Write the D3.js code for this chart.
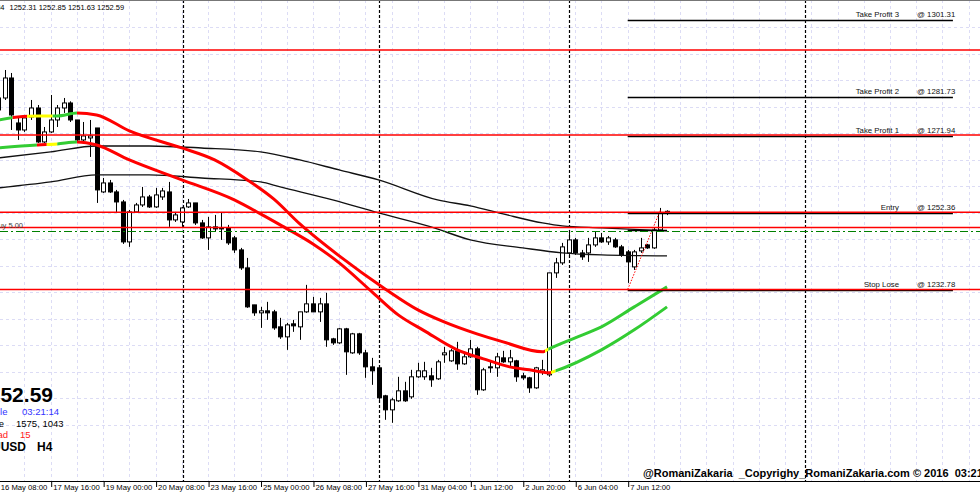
<!DOCTYPE html>
<html>
<head>
<meta charset="utf-8">
<script src="https://cdn.jsdelivr.net/npm/d3@7"></script>
<style>
  body { margin: 0; background: #fff; }
  svg { display: block; font-family: "Liberation Sans", Arial, sans-serif; }
</style>
</head>
<body>
<svg width="980" height="500"></svg>
<script>
// XAUUSD H4 candles: [open, high, low, close]
const ohlc = [
  [1278.31, 1282.11, 1277.55, 1281.35], [1281.35, 1288.45, 1280.84, 1286.42], [1286.42, 1287.69, 1273.23, 1277.04],
  [1275.01, 1276.28, 1270.70, 1273.23], [1273.23, 1277.04, 1272.73, 1276.28], [1276.53, 1280.84, 1275.77, 1278.81],
  [1278.81, 1279.57, 1269.94, 1270.19], [1270.19, 1273.99, 1269.94, 1272.73], [1272.73, 1282.11, 1272.47, 1275.77],
  [1275.77, 1279.57, 1273.99, 1278.81], [1278.81, 1281.35, 1277.55, 1280.08], [1280.08, 1280.50, 1275.26, 1275.77],
  [1275.77, 1275.77, 1270.19, 1270.70], [1270.70, 1275.26, 1270.19, 1271.71], [1271.21, 1275.77, 1266.39, 1271.71],
  [1273.74, 1273.74, 1254.72, 1258.02], [1257.51, 1261.06, 1257.26, 1259.79], [1259.79, 1260.55, 1257.26, 1257.51],
  [1257.51, 1258.02, 1252.19, 1254.97], [1254.97, 1255.48, 1244.32, 1244.83], [1244.83, 1252.94, 1243.57, 1252.44],
  [1252.44, 1254.72, 1252.19, 1254.21], [1254.21, 1258.78, 1253.71, 1256.24], [1256.24, 1256.75, 1253.45, 1253.71],
  [1253.71, 1258.53, 1253.45, 1256.75], [1256.24, 1258.53, 1255.48, 1257.76], [1257.51, 1260.05, 1248.64, 1250.41],
  [1250.41, 1252.44, 1249.90, 1251.68], [1249.90, 1253.71, 1248.64, 1253.45], [1253.71, 1255.73, 1253.45, 1254.72],
  [1254.72, 1254.72, 1249.14, 1249.65], [1249.65, 1250.41, 1245.60, 1245.85], [1245.85, 1251.17, 1242.80, 1248.64],
  [1248.64, 1251.68, 1247.37, 1248.13], [1248.13, 1252.19, 1245.34, 1248.38], [1248.38, 1249.14, 1244.07, 1244.58],
  [1245.85, 1246.34, 1242.04, 1242.80], [1242.80, 1243.31, 1237.73, 1238.24], [1238.24, 1240.77, 1228.10, 1228.35],
  [1228.85, 1228.85, 1226.07, 1226.83], [1226.83, 1228.35, 1223.02, 1227.34], [1227.34, 1229.62, 1225.05, 1226.83],
  [1227.08, 1227.59, 1222.52, 1223.02], [1223.28, 1225.56, 1220.23, 1220.74], [1220.74, 1224.29, 1217.44, 1223.78],
  [1224.04, 1225.05, 1222.01, 1223.53], [1223.28, 1227.08, 1219.98, 1227.08], [1227.08, 1233.93, 1226.83, 1229.11],
  [1229.11, 1230.88, 1227.08, 1227.08], [1227.08, 1230.63, 1224.54, 1229.11], [1229.11, 1231.90, 1218.21, 1219.98],
  [1220.23, 1220.49, 1218.71, 1219.22], [1219.22, 1223.02, 1218.96, 1222.77], [1222.77, 1223.02, 1211.10, 1216.94],
  [1216.68, 1221.75, 1216.43, 1221.50], [1221.50, 1221.75, 1216.18, 1216.68], [1216.68, 1217.44, 1210.34, 1213.13],
  [1213.13, 1215.41, 1208.56, 1212.12], [1212.88, 1213.13, 1204.76, 1205.27], [1205.78, 1206.03, 1199.69, 1202.22],
  [1202.22, 1205.27, 1198.93, 1204.76], [1204.51, 1210.60, 1204.25, 1207.04], [1207.04, 1209.33, 1204.25, 1204.51],
  [1205.52, 1212.37, 1205.02, 1210.60], [1210.60, 1214.15, 1210.34, 1212.12], [1210.60, 1214.40, 1209.83, 1212.12],
  [1210.85, 1212.88, 1208.06, 1209.83], [1210.09, 1214.91, 1209.83, 1214.40], [1216.18, 1218.21, 1214.15, 1216.68],
  [1214.65, 1217.70, 1214.40, 1217.19], [1217.19, 1219.47, 1212.37, 1213.89], [1213.89, 1216.68, 1213.64, 1215.67],
  [1215.67, 1219.98, 1215.41, 1217.70], [1217.70, 1218.21, 1206.03, 1207.30], [1207.30, 1212.88, 1207.04, 1212.37],
  [1213.13, 1214.40, 1211.61, 1212.88], [1212.88, 1216.68, 1210.60, 1215.67], [1215.41, 1217.19, 1214.15, 1214.40],
  [1214.40, 1217.44, 1212.88, 1215.41], [1214.65, 1214.91, 1209.33, 1210.60], [1210.85, 1211.61, 1209.83, 1210.34],
  [1210.34, 1210.60, 1206.53, 1207.80], [1207.80, 1213.13, 1207.55, 1212.88], [1211.86, 1214.91, 1211.10, 1212.37],
  [1211.10, 1236.97, 1210.60, 1236.97], [1236.97, 1240.77, 1235.70, 1239.51], [1239.51, 1244.58, 1239.00, 1243.57],
  [1242.04, 1247.87, 1241.53, 1245.34], [1245.34, 1245.85, 1241.53, 1242.04], [1242.04, 1242.80, 1240.27, 1241.03],
  [1242.04, 1245.85, 1239.76, 1244.07], [1244.07, 1247.37, 1243.57, 1245.85], [1245.85, 1247.11, 1244.58, 1244.83],
  [1244.83, 1246.34, 1244.07, 1245.85], [1245.34, 1245.85, 1243.31, 1243.57], [1243.57, 1244.07, 1241.03, 1241.53],
  [1242.30, 1242.80, 1234.43, 1239.76], [1238.49, 1242.80, 1237.73, 1242.30], [1242.55, 1245.85, 1242.04, 1243.31],
  [1244.07, 1244.32, 1243.06, 1243.31], [1243.31, 1248.38, 1243.06, 1247.87], [1247.87, 1253.45, 1247.37, 1252.19],
  [1252.31, 1252.85, 1251.63, 1252.59]
];

// time axis, one label every 8 bars
const tickIdx = [0, 8, 16, 24, 32, 40, 48, 56, 64, 72, 80, 88, 96];
const timeLabels = ["16 May 08:00", "17 May 16:00", "19 May 00:00", "20 May 08:00", "23 May 16:00",
  "25 May 00:00", "26 May 08:00", "27 May 16:00", "31 May 04:00", "1 Jun 12:00", "2 Jun 20:00",
  "6 Jun 04:00", "7 Jun 12:00"];
const separatorIdx = [28.2, 58.1, 87, 123];

// moving averages [bar index, price]
const blackMA1 = [[0, 1266.13], [8, 1267.66], [15, 1269.18], [23, 1269.18], [31, 1268.67], [40, 1267.66],
  [46, 1265.63], [52, 1263.09], [58, 1260.56], [67, 1255.48], [72, 1253.96], [77, 1251.93], [83, 1249.65],
  [86, 1248.89], [92, 1248.38], [102, 1247.62]];
const blackMA2 = [[0, 1258.53], [8, 1260.05], [15, 1261.83], [23, 1261.83], [31, 1261.06], [40, 1260.05],
  [43, 1258.78], [51, 1255.48], [58, 1252.19], [66, 1248.64], [72, 1245.34], [80, 1243.31], [86, 1242.04],
  [92, 1241.53], [102, 1241.28]];
const trendMA1 = [[0, 1275.77], [3, 1276.53], [6, 1276.79], [9, 1276.79], [12, 1277.55], [15, 1277.04],
  [20, 1272.98], [28, 1268.67], [33, 1265.63], [38, 1260.56], [42, 1255.74], [46, 1249.40], [52, 1241.28],
  [59, 1232.91], [64, 1227.59], [68, 1224.54], [73, 1221.50], [77, 1219.47], [83, 1216.94], [84, 1217.70],
  [88, 1220.49], [92, 1223.28], [97, 1228.35], [102, 1233.42]];
const trendMA2 = [[0, 1268.67], [6, 1269.43], [9, 1269.69], [12, 1270.19], [15, 1269.43], [20, 1265.63],
  [28, 1260.56], [36, 1255.48], [40, 1251.93], [43, 1249.14], [48, 1244.32], [52, 1239.51], [57, 1232.15],
  [61, 1226.32], [65, 1222.26], [70, 1217.44], [74, 1215.16], [78, 1213.13], [81, 1212.37], [84, 1211.61],
  [85, 1212.12], [92, 1217.44], [97, 1222.52], [102, 1228.35]];
// colour state of the trend MAs: [from bar, to bar, state]
const trend1States = [[-1, 2.2, "up"], [2.2, 4.4, "down"], [4.4, 8.3, "flat"], [8.3, 12, "up"],
  [12, 83.4, "down"], [83.4, 83.9, "flat"], [83.9, 104, "up"]];
const trend2States = [[-1, 5.9, "up"], [5.9, 7.4, "down"], [7.4, 9, "flat"], [9, 12, "up"],
  [12, 84.3, "down"], [84.3, 85, "flat"], [85, 104, "up"]];

// horizontal objects
const levelPrices = [1293.52, 1271.94, 1252.36, 1248.46, 1232.78];
const orderNames = ["Take Profit 3", "Take Profit 2", "Take Profit 1", "Entry", "Stop Lose"];
const orderPrices = [1301.31, 1281.73, 1271.94, 1252.36, 1232.78];
const orderSpan = [96, 145.6];
const pendingPrice = 1247.62;
const zigzag = [[96, 1232.78], [101, 1252.94]];

const svg = d3.select("svg");
const plotBottom = 481;
const stateColor = { up: "#33cc33", down: "#ff0000", flat: "#ffff00" };

const x = d3.scaleLinear().domain([8, 96]).range([50.7, 627.7]);
const y = d3.scaleLinear().domain([1232.78, 1301.31]).range([289.4, 19.3]);
const px = v => Math.round(v) + 0.5;

// grid
svg.append("g").selectAll("line").data(d3.range(0, 152, 4)).join("line")
  .attr("x1", d => px(x(d))).attr("x2", d => px(x(d)))
  .attr("y1", 0).attr("y2", plotBottom)
  .attr("stroke", "#dcdcf5").attr("stroke-dasharray", "3,3");
svg.append("g").selectAll("line").data(d3.range(1198.5, 1306, 6.72)).join("line")
  .attr("x1", 0).attr("x2", 980)
  .attr("y1", d => px(y(d))).attr("y2", d => px(y(d)))
  .attr("stroke", "#dcdcf5").attr("stroke-dasharray", "3,3");

// period separators
svg.append("g").selectAll("line").data(separatorIdx).join("line")
  .attr("x1", d => px(x(d))).attr("x2", d => px(x(d)))
  .attr("y1", 0).attr("y2", plotBottom)
  .attr("stroke", "#000").attr("stroke-width", 1.2).attr("stroke-dasharray", "3,2");

// candles
const bars = svg.append("g").selectAll("g").data(ohlc).join("g");
bars.append("line")
  .attr("x1", (d, i) => px(x(i))).attr("x2", (d, i) => px(x(i)))
  .attr("y1", d => y(d[1])).attr("y2", d => y(d[2]))
  .attr("stroke", "#000");
bars.append("rect")
  .attr("x", (d, i) => px(x(i)) - 2)
  .attr("width", 4)
  .attr("y", d => y(Math.max(d[0], d[3])))
  .attr("height", d => Math.max(1, Math.abs(y(d[0]) - y(d[3]))))
  .attr("fill", d => d[3] >= d[0] ? "#fff" : "#000")
  .attr("stroke", "#000");

// moving averages
const maLine = d3.line().x(d => x(d[0])).y(d => y(d[1])).curve(d3.curveMonotoneX);
[blackMA1, blackMA2].forEach(ma => {
  svg.append("path").attr("d", maLine(ma))
    .attr("fill", "none").attr("stroke", "#111").attr("stroke-width", 1.4);
});

const defs = svg.append("defs");
[[trendMA1, trend1States], [trendMA2, trend2States]].forEach(([ma, states], k) => {
  states.forEach((s, j) => {
    const id = `clip-${k}-${j}`;
    defs.append("clipPath").attr("id", id).append("rect")
      .attr("x", x(s[0])).attr("width", x(s[1]) - x(s[0]))
      .attr("y", 0).attr("height", plotBottom);
    svg.append("path").attr("d", maLine(ma))
      .attr("clip-path", `url(#${id})`)
      .attr("fill", "none").attr("stroke", stateColor[s[2]]).attr("stroke-width", 3);
  });
});

// zigzag
svg.append("path").attr("d", d3.line().x(d => x(d[0])).y(d => y(d[1]))(zigzag))
  .attr("fill", "none").attr("stroke", "#ff0000").attr("stroke-dasharray", "1.5,1.5");

// order lines (black) with their labels
const orders = svg.append("g");
orderPrices.forEach((p, i) => {
  orders.append("line")
    .attr("x1", x(orderSpan[0])).attr("x2", x(orderSpan[1]))
    .attr("y1", px(y(p)) + 1).attr("y2", px(y(p)) + 1)
    .attr("stroke", "#000").attr("stroke-width", 1.6);
  orders.append("text").attr("x", 899).attr("y", y(p) - 2.5)
    .attr("text-anchor", "end").attr("font-size", 7.8).attr("fill", "#111")
    .text(orderNames[i]);
  orders.append("text").attr("x", 917).attr("y", y(p) - 2.5)
    .attr("font-size", 7.8).attr("fill", "#111")
    .text("@ " + p.toFixed(2));
});
orders.append("line")
  .attr("x1", x(orderSpan[0])).attr("x2", x(102))
  .attr("y1", px(y(pendingPrice)) - 1).attr("y2", px(y(pendingPrice)) - 1)
  .attr("stroke", "#000").attr("stroke-width", 1.6);

// red levels
svg.append("g").selectAll("line").data(levelPrices).join("line")
  .attr("x1", 0).attr("x2", 980)
  .attr("y1", d => y(d)).attr("y2", d => y(d))
  .attr("stroke", "#ff0000").attr("stroke-width", 1.5);

// pending order line
svg.append("line")
  .attr("x1", 0).attr("x2", 980)
  .attr("y1", px(y(pendingPrice))).attr("y2", px(y(pendingPrice)))
  .attr("stroke", "#008000").attr("stroke-dasharray", "8,3,2,3");
svg.append("text").attr("x", 23).attr("y", y(pendingPrice) - 3)
  .attr("text-anchor", "end").attr("font-size", 7.5).attr("fill", "#444")
  .text("buy 5.00");

// time axis
svg.append("rect").attr("x", 0).attr("y", plotBottom).attr("width", 980).attr("height", 19).attr("fill", "#fff");
const axis = svg.append("g").attr("transform", `translate(0,${plotBottom})`)
  .call(d3.axisBottom(x).tickValues(tickIdx).tickFormat((d, i) => timeLabels[i]).tickSize(6));
axis.select(".domain").remove();
axis.selectAll(".tick line").attr("stroke", "#000").attr("transform", "translate(0.5,0)");
axis.selectAll(".tick text")
  .attr("text-anchor", "start").attr("x", 2).attr("y", 4)
  .attr("font-family", "Liberation Sans, Arial, sans-serif").attr("font-size", 7.7).attr("fill", "#000");
svg.append("line").attr("x1", 0).attr("x2", 980).attr("y1", plotBottom + 0.5).attr("y2", plotBottom + 0.5)
  .attr("stroke", "#000");
svg.append("line").attr("x1", 0).attr("x2", 980).attr("y1", 0.5).attr("y2", 0.5).attr("stroke", "#777");

// header quote line
const last = ohlc[ohlc.length - 1];
svg.append("text").attr("x", 4.5).attr("y", 10).attr("text-anchor", "end")
  .attr("font-size", 7.5).text("XAUUSD,H4");
svg.append("text").attr("x", 9.5).attr("y", 10).attr("font-size", 7.5)
  .text([last[0], last[1], last[2], last[3]].map(v => v.toFixed(2)).join(" "));

// info panel bottom left
const info = svg.append("g");
info.append("text").attr("x", 53).attr("y", 402).attr("text-anchor", "end")
  .attr("font-size", 21).attr("font-weight", "bold").text(last[3].toFixed(2));
const rows = [
  { label: "Candle", value: "03:21:14", color: "#3333ff", y: 415, lx: 7.5, vx: 22 },
  { label: "Volume", value: "1575, 1043", color: "#000", y: 427, lx: 4, vx: 16 },
  { label: "Spread", value: "15", color: "#ff2020", y: 438, lx: 8, vx: 20 }
];
rows.forEach(r => {
  info.append("text").attr("x", r.lx).attr("y", r.y).attr("text-anchor", "end")
    .attr("font-size", 9.5).attr("fill", r.color).text(r.label);
  info.append("text").attr("x", r.vx).attr("y", r.y)
    .attr("font-size", 9.5).attr("fill", r.color).text(r.value);
});
info.append("text").attr("x", 26).attr("y", 451).attr("text-anchor", "end")
  .attr("font-size", 12).attr("font-weight", "bold").text("XAUUSD");
info.append("text").attr("x", 37).attr("y", 451)
  .attr("font-size", 12).attr("font-weight", "bold").text("H4");

// copyright
svg.append("text").attr("x", 643).attr("y", 477)
  .attr("font-size", 11).attr("font-weight", "bold").style("white-space", "pre")
  .text("@RomaniZakaria  _Copyrighy_RomaniZakaria.com \u00a9 2016  03:21:14");
</script>
</body>
</html>
